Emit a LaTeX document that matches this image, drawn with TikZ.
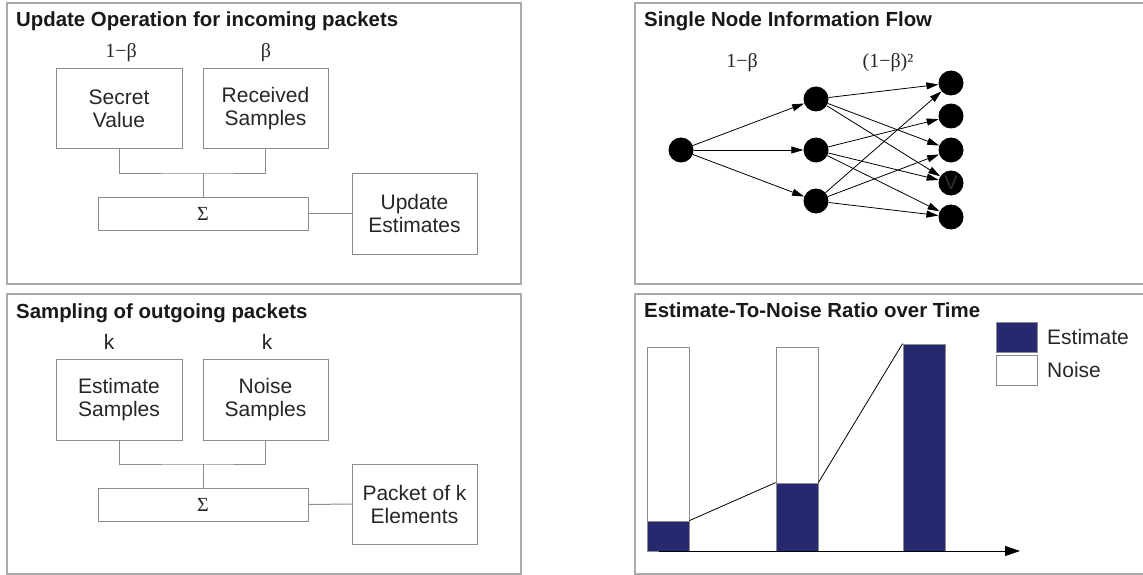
\documentclass[tikz,border=0pt]{standalone}
\usepackage{fontspec}
\setmainfont{Liberation Sans}
\newfontfamily\greekfont{Liberation Serif}
\usetikzlibrary{arrows.meta}
\definecolor{navybar}{RGB}{38,40,112}
\definecolor{framegray}{RGB}{170,170,170}
\definecolor{boxgray}{RGB}{140,140,140}

\begin{document}
\begin{tikzpicture}[x=1pt, y=-1pt,
    panel/.style={draw=framegray, line width=1.2pt},
    ttl/.style={anchor=base west, inner sep=0pt, text=black!90,
                font=\fontsize{20.4}{24}\selectfont\bfseries},
    box/.style={draw=boxgray, line width=1pt, align=center, inner sep=0pt,
                text=black!85, font=\fontsize{21}{23}\selectfont},
    wire/.style={draw=boxgray, line width=1pt},
    coef/.style={inner sep=0pt, text=black!85},
    dot/.style={circle, fill=black, minimum size=25pt, inner sep=0pt},
    flow/.style={-{Triangle[length=12pt,width=7pt]}, line width=0.8pt},
    bar/.style={draw=boxgray, line width=0.8pt, minimum width=42pt, inner sep=0pt},
    lgd/.style={anchor=west, inner sep=0pt, text=black!85,
                font=\fontsize{21}{23}\selectfont}
  ]
  \clip (0,0) rectangle (1143,575);

  % Panels
  \draw[panel] (7,3) rectangle (521,284);
  \draw[panel] (635,3) rectangle (1160,284);
  \draw[panel] (7,294) rectangle (521,574);
  \draw[panel] (635,294) rectangle (1160,574);

  % Update operation
  \node[ttl] (t1) at (16,27) {Update Operation for incoming packets};
  \node[coef, font=\greekfont\fontsize{20}{24}\selectfont] (c1) at (121,53) {1−β};
  \node[coef, font=\greekfont\fontsize{20}{24}\selectfont] (c2) at (266,53) {β};
  \node[box, minimum width=126pt, minimum height=80pt] (sv) at (119,109) {Secret\\Value};
  \node[box, minimum width=125pt, minimum height=80pt] (rs) at (265.5,109) {Received\\Samples};
  \node[box, minimum width=210pt, minimum height=33pt,
        font=\greekfont\fontsize{20}{24}\selectfont] (sum1) at (203,213.5) {Σ};
  \node[box, minimum width=125pt, minimum height=81pt] (upd) at (414.5,213.5) {Update\\Estimates};
  \coordinate (j1) at (203,173);
  \draw[wire] (sv.south) |- (j1) -| (rs.south);
  \draw[wire] (j1) -- (sum1.north);
  \draw[wire] (sum1.east) -- (upd.west);

  % Sampling
  \node[ttl] (t2) at (16,318) {Sampling of outgoing packets};
  \node[coef, font=\fontsize{21}{23}\selectfont] (k1) at (109,342) {k};
  \node[coef, font=\fontsize{21}{23}\selectfont] (k2) at (267,342) {k};
  \node[box, minimum width=126pt, minimum height=81pt] (es) at (119,399.5) {Estimate\\Samples};
  \node[box, minimum width=125pt, minimum height=81pt] (ns) at (265.5,399.5) {Noise\\Samples};
  \node[box, minimum width=210pt, minimum height=33pt,
        font=\greekfont\fontsize{20}{24}\selectfont] (sum2) at (203,504.5) {Σ};
  \node[box, minimum width=125pt, minimum height=80pt] (pkt) at (414.5,504) {Packet of k\\Elements};
  \coordinate (j2) at (203,464);
  \draw[wire] (es.south) |- (j2) -| (ns.south);
  \draw[wire] (j2) -- (sum2.north);
  \draw[wire] (sum2.east) -- (pkt.west);

  % Information flow
  \node[ttl] (t3) at (644,27) {Single Node Information Flow};
  \node[coef, font=\greekfont\fontsize{20}{24}\selectfont] (c3) at (742,63) {1−β};
  \node[coef, font=\greekfont\fontsize{20}{24}\selectfont] (c4) at (888,63) {(1−β)²};
  \node[dot] (src) at (681,150) {};
  \node[dot] (m1) at (816,99) {};
  \node[dot] (m2) at (816,150) {};
  \node[dot] (m3) at (816,201) {};
  \node[dot] (r1) at (951,83) {};
  \node[dot] (r2) at (951,116) {};
  \node[dot] (r3) at (951,150) {};
  \node[dot, text=black!82, font=\fontsize{20}{24}\selectfont] (r4) at (951,183) {V};
  \node[dot] (r5) at (951,217) {};
  \draw[flow] (src) -- (m1);
  \draw[flow] (src) -- (m2);
  \draw[flow] (src) -- (m3);
  \draw[flow] (m1) -- (r1);
  \draw[flow] (m1) -- (r3);
  \draw[flow] (m1) -- (r4);
  \draw[flow] (m2) -- (r2);
  \draw[flow] (m2) -- (r4);
  \draw[flow] (m2) -- (r5);
  \draw[flow] (m3) -- (r1);
  \draw[flow] (m3) -- (r3);
  \draw[flow] (m3) -- (r5);

  % Estimate-to-noise ratio
  \node[ttl] (t4) at (644,317) {Estimate-To-Noise Ratio over Time};
  \node[bar, minimum height=174pt] (noi1) at (668,434) {};
  \node[bar, fill=navybar, minimum height=30pt] (est1) at (668,536) {};
  \node[bar, minimum height=136pt] (noi2) at (797,415) {};
  \node[bar, fill=navybar, minimum height=68pt] (est2) at (797,517) {};
  \node[bar, fill=navybar, minimum height=207pt] (est3) at (924,447.5) {};
  \draw[line width=0.8pt] (est1.north east) -- (est2.north west);
  \draw[line width=0.8pt] (est2.north east) -- (est3.north west);
  \coordinate (ax0) at (659,551);
  \coordinate (ax1) at (1020,551);
  \draw[-{Triangle[length=15pt,width=10pt]}, line width=1pt] (ax0) -- (ax1);

  % Legend
  \node[bar, fill=navybar, minimum width=41pt, minimum height=30pt] (lge) at (1016.5,337) {};
  \node[bar, minimum width=41pt, minimum height=30pt] (lgn) at (1016.5,370) {};
  \node[lgd] (lte) at (1047,337) {Estimate};
  \node[lgd] (ltn) at (1047,370) {Noise};
\end{tikzpicture}
\end{document}
